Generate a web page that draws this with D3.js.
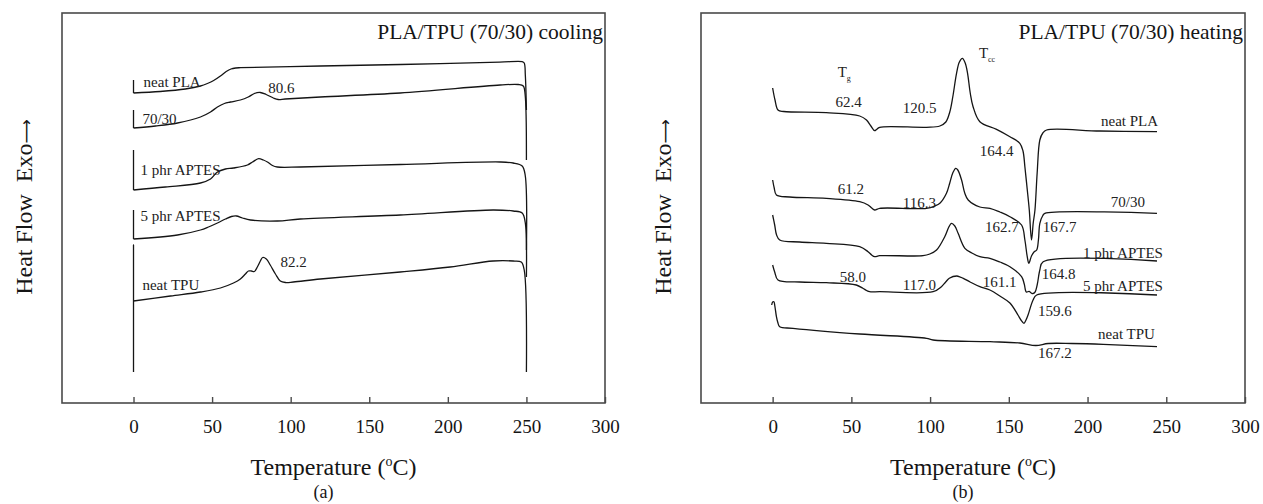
<!DOCTYPE html>
<html>
<head>
<meta charset="utf-8">
<script src="https://cdn.jsdelivr.net/npm/d3@7"></script>
<style>
  html, body { margin: 0; padding: 0; background: #fff; }
  svg { display: block; font-family: "Liberation Serif", "Times New Roman", serif; }
</style>
</head>
<body>
<svg id="chart" width="1263" height="504"></svg>
<script>
// Temperature ticks shared by both DSC panels (°C)
const tempTicks = [0, 50, 100, 150, 200, 250, 300];

// ---- (a) cooling scans: [temperature °C, heat flow a.u. (exo up)] ----
const coolNeatPLA = [[0,323],[0,310],[17,311.5],[33,314],[42.6,317],[47,319.5],[51,322.5],[55.3,327],[59,331.5],[62,334],[65,335],[68,335.3],[119,337],[170,338.5],[233,340.8],[247.3,341.3],[248.6,340],[249.3,328],[250,293]];
const cool7030 = [[0,293],[0,275],[14,277],[28,280],[42.6,286],[49,291],[53.4,296],[57.8,299.5],[61.7,301],[68,303],[73,306],[76.9,309.5],[80.6,310.5],[84.4,308.5],[89,305],[92,303.5],[96.5,304],[118.9,306],[169.7,310],[233.3,318],[244.8,318.5],[248,317],[249.2,308],[250,243]];
const cool1phr = [[0,253],[0,213],[20.3,216],[42.6,220],[49,224],[53.4,231],[58.5,234],[63.6,235],[72.5,238],[75.7,241],[79.6,244.3],[82.6,243],[85.2,241],[88.4,237.5],[91.5,236],[106.2,236],[169.7,238.5],[233.3,241],[241.6,240],[247.3,237],[249.2,228],[250,153]];
const cool5phr = [[0,193],[0,164],[28,168],[42.6,173],[47.7,176],[53.4,180],[58.5,184],[62.3,186.5],[65.5,187],[69.3,185],[74.4,183],[91.5,182],[106.2,184],[169.7,188],[228.8,193],[241.6,192],[247.3,190],[249.2,181],[250,126]];
const coolNeatTPU = [[0,31],[0,158],[0,102],[23.5,107],[42.6,111],[55.3,115],[63.6,120],[68,124],[71.2,129],[73.1,132],[75,132],[76.9,131.5],[78.8,136],[80.7,142],[82.2,145.5],[84.5,144],[87,138],[90.3,129],[93.4,122],[96.6,120.5],[101.7,121],[118.9,124],[169.7,131],[201.5,136],[228.8,142],[241.6,142],[246.7,141],[248.6,133],[250,31]];

// ---- (b) heating scans ----
const heatNeatPLA = [[0,315],[1.5,303],[3.4,293],[7,291.5],[34.1,290.3],[55.3,287],[59.6,283],[62.4,277],[64.8,272.3],[66,273.5],[68,275.7],[97.7,275.7],[106.2,277],[110,281],[112.5,291],[114.4,306],[116.8,329.7],[118.6,341],[120.5,344.7],[122.3,340],[123.8,329.7],[125.5,310],[127.3,296.3],[131.6,281.3],[142.2,273.7],[150.7,266.3],[157,259.7],[159,252],[160.2,236.3],[161.6,215],[163,193],[164.4,163],[165.5,180],[166.6,193],[168,230],[169.7,263],[171.6,270],[174,273],[207.9,272],[244.1,271.3]];
const heat7030 = [[0,223],[1,215],[2.4,208],[10.8,206],[34.1,204.7],[55.3,201.3],[60.6,198],[62.9,195],[64.8,193],[68,194.7],[97.7,194.7],[103,197],[106.2,199.7],[110.4,209.7],[112.5,220],[114.4,230],[116.3,234.7],[117.6,233],[120,223],[122,210],[124.2,203],[131.6,196],[138,194.7],[144.3,191],[150.7,186.3],[158.1,178],[160.2,163],[161.7,146.3],[162.7,139.7],[164.4,147],[166,151],[167.7,153],[168.8,163],[169.7,179.7],[171.6,187.5],[172.9,189.7],[244.1,189.7]];
const heat1phr = [[0,188],[1.3,178],[2.5,168],[4.5,163],[17.2,161],[34.1,159.7],[55.3,156.3],[60.6,151.3],[62.9,148],[64.8,146.3],[68,147.3],[95.5,147.3],[99.8,149],[104.1,153],[109.3,166.3],[111.9,176],[113.6,179.7],[115.7,177],[117.8,169.7],[122.1,154.7],[126.5,150],[131.6,146.3],[138,144.7],[144.3,141],[150.7,136.3],[158.1,126.3],[159.8,119],[161.1,111],[162.9,111.6],[164.8,109.5],[166.5,110.5],[168,118],[169.7,133],[171.8,141.3],[244.1,142]];
const heat5phr = [[0,138],[1.3,131],[3.4,123],[17.2,121],[34.1,120.3],[53.1,118],[57.3,114.7],[59.7,112.5],[61.6,111.3],[68,111.3],[101.9,111.3],[107.2,116.3],[109.9,121],[112.2,124.7],[117,127],[119,126],[121.1,124.7],[125.4,121],[131.6,116.3],[138,113],[144.3,107],[150.7,100],[155.8,88],[157.7,83],[159.6,79.7],[160.9,83],[162.2,88],[165.4,103],[167.7,108],[244.1,108]];
const heatNeatTPU = [[-0.6,98],[0,101],[0.8,101.3],[1.4,97],[2.4,86.3],[3.2,81],[4.5,76.3],[12.9,74.7],[55.3,69],[97.7,64.7],[101.9,63],[138,61.3],[157,60],[167.2,57.5],[175,59.5],[190,59.5],[210,58.7],[244.1,56.3]];

// Curve names and peak temperatures, anchored at [temperature, heat flow]
const coolNotes = [
  [6.4, 316, "neat PLA", "start"],
  [5.7, 279, "70/30", "start"],
  [4.5, 228, "1 phr APTES", "start"],
  [4.5, 182, "5 phr APTES", "start"],
  [5.7, 113, "neat TPU", "start"],
  [85.8, 310, "80.6", "start"],
  [93.5, 136, "82.2", "start"]
];
const heatNotes = [
  [40, 296, "62.4", "start"],
  [82.6, 290, "120.5", "start"],
  [131.6, 247, "164.4", "start"],
  [244.8, 277, "neat PLA", "end"],
  [41.3, 209, "61.2", "start"],
  [82.6, 195, "116.3", "start"],
  [134.8, 171, "162.7", "start"],
  [171.6, 171, "167.7", "start"],
  [236.5, 196, "70/30", "end"],
  [247.9, 145, "1 phr APTES", "end"],
  [133.5, 116, "161.1", "start"],
  [170.9, 124, "164.8", "start"],
  [247.9, 112, "5 phr APTES", "end"],
  [42.6, 121, "58.0", "start"],
  [82.6, 113, "117.0", "start"],
  [168.5, 87, "159.6", "start"],
  [242.8, 64, "neat TPU", "end"],
  [168.5, 45, "167.2", "start"]
];
// Transition symbols with subscripts: [temperature, heat flow, main, subscript]
const heatSymbols = [
  [41.3, 326, "T", "g"],
  [131, 345, "T", "cc"]
];

const svg = d3.select("#chart");
const plotTop = 13, plotBottom = 403;
const ink = "#151515", frameInk = "#4a4a4a";

const panels = [
  { x0: 62,  x1: 605,  title: "PLA/TPU (70/30) cooling", tag: "(a)",
    series: [coolNeatPLA, cool7030, cool1phr, cool5phr, coolNeatTPU], notes: coolNotes, symbols: [] },
  { x0: 701, x1: 1245, title: "PLA/TPU (70/30) heating", tag: "(b)",
    series: [heatNeatPLA, heat7030, heat1phr, heat5phr, heatNeatTPU], notes: heatNotes, symbols: heatSymbols }
];

// A scan may open with an isothermal jump (several points at one temperature):
// that run is drawn straight, the rest of the trace is smoothed.
function splitIsothermal(s) {
  let k = 0;
  while (k + 1 < s.length && s[k + 1][0] === s[0][0]) k++;
  return { jump: k > 0 ? s.slice(0, k + 1) : null, trace: s.slice(k) };
}

panels.forEach(p => {
  const x = d3.scaleLinear().domain([-45.5, 300]).range([p.x0, p.x1]);
  const y = d3.scaleLinear().domain([0, 390]).range([plotBottom, plotTop]);
  const g = svg.append("g");

  const smooth = d3.line().x(d => x(d[0])).y(d => y(d[1])).curve(d3.curveCatmullRom.alpha(0.5));
  const straight = d3.line().x(d => x(d[0])).y(d => y(d[1]));

  p.series.forEach(s => {
    const part = splitIsothermal(s);
    const d = (part.jump ? straight(part.jump) : "") + smooth(part.trace);
    g.append("path")
      .attr("d", d)
      .attr("fill", "none")
      .attr("stroke", ink)
      .attr("stroke-width", 1.3)
      .attr("stroke-linejoin", "round");
  });

  // plot frame
  g.append("rect")
    .attr("x", p.x0).attr("y", plotTop)
    .attr("width", p.x1 - p.x0).attr("height", plotBottom - plotTop)
    .attr("fill", "none").attr("stroke", frameInk).attr("stroke-width", 1.6);

  // bottom axis with inward ticks
  const axis = d3.axisBottom(x).tickValues(tempTicks)
    .tickSizeInner(-6).tickSizeOuter(0).tickPadding(17)
    .tickFormat(d3.format("d"));
  const ag = g.append("g").attr("transform", `translate(0,${plotBottom})`).call(axis);
  ag.select(".domain").remove();
  ag.attr("font-family", null).attr("font-size", 19);
  ag.selectAll(".tick line").attr("stroke", frameInk).attr("stroke-width", 1.4);
  ag.selectAll(".tick text").attr("fill", ink);

  // panel title
  g.append("text")
    .attr("x", p.x1 - 2).attr("y", 39)
    .attr("text-anchor", "end").attr("font-size", 21.5).attr("fill", ink)
    .text(p.title);

  // curve labels and peak values
  g.selectAll("text.note").data(p.notes).join("text")
    .attr("class", "note")
    .attr("x", d => x(d[0])).attr("y", d => y(d[1]))
    .attr("text-anchor", d => d[3])
    .attr("font-size", 15).attr("fill", "#222")
    .text(d => d[2]);

  p.symbols.forEach(s => {
    const t = g.append("text")
      .attr("x", x(s[0])).attr("y", y(s[1]))
      .attr("font-size", 15).attr("fill", "#222");
    t.append("tspan").text(s[2]);
    t.append("tspan").attr("font-size", 8).attr("dy", 4).text(s[3]);
  });

  // axis titles
  const cx = (p.x0 + p.x1) / 2;
  const xt = g.append("text")
    .attr("x", cx).attr("y", 475)
    .attr("text-anchor", "middle").attr("font-size", 24).attr("fill", ink);
  xt.append("tspan").text("Temperature (");
  xt.append("tspan").attr("font-size", 14).attr("dy", -9).text("o");
  xt.append("tspan").attr("dy", 9).text("C)");

  g.append("text")
    .attr("x", cx - 10).attr("y", 498)
    .attr("text-anchor", "middle").attr("font-size", 18).attr("fill", ink)
    .text(p.tag);

  const yt = g.append("text")
    .attr("transform", `translate(${p.x0 - 30.5},207) rotate(-90)`)
    .attr("text-anchor", "middle").attr("font-size", 24).attr("fill", ink)
    .style("white-space", "pre");
  yt.append("tspan").text("Heat Flow  Exo");
  yt.append("tspan").attr("font-family", "DejaVu Sans").attr("font-size", 17).text("\u27F6");
});
</script>
</body>
</html>
